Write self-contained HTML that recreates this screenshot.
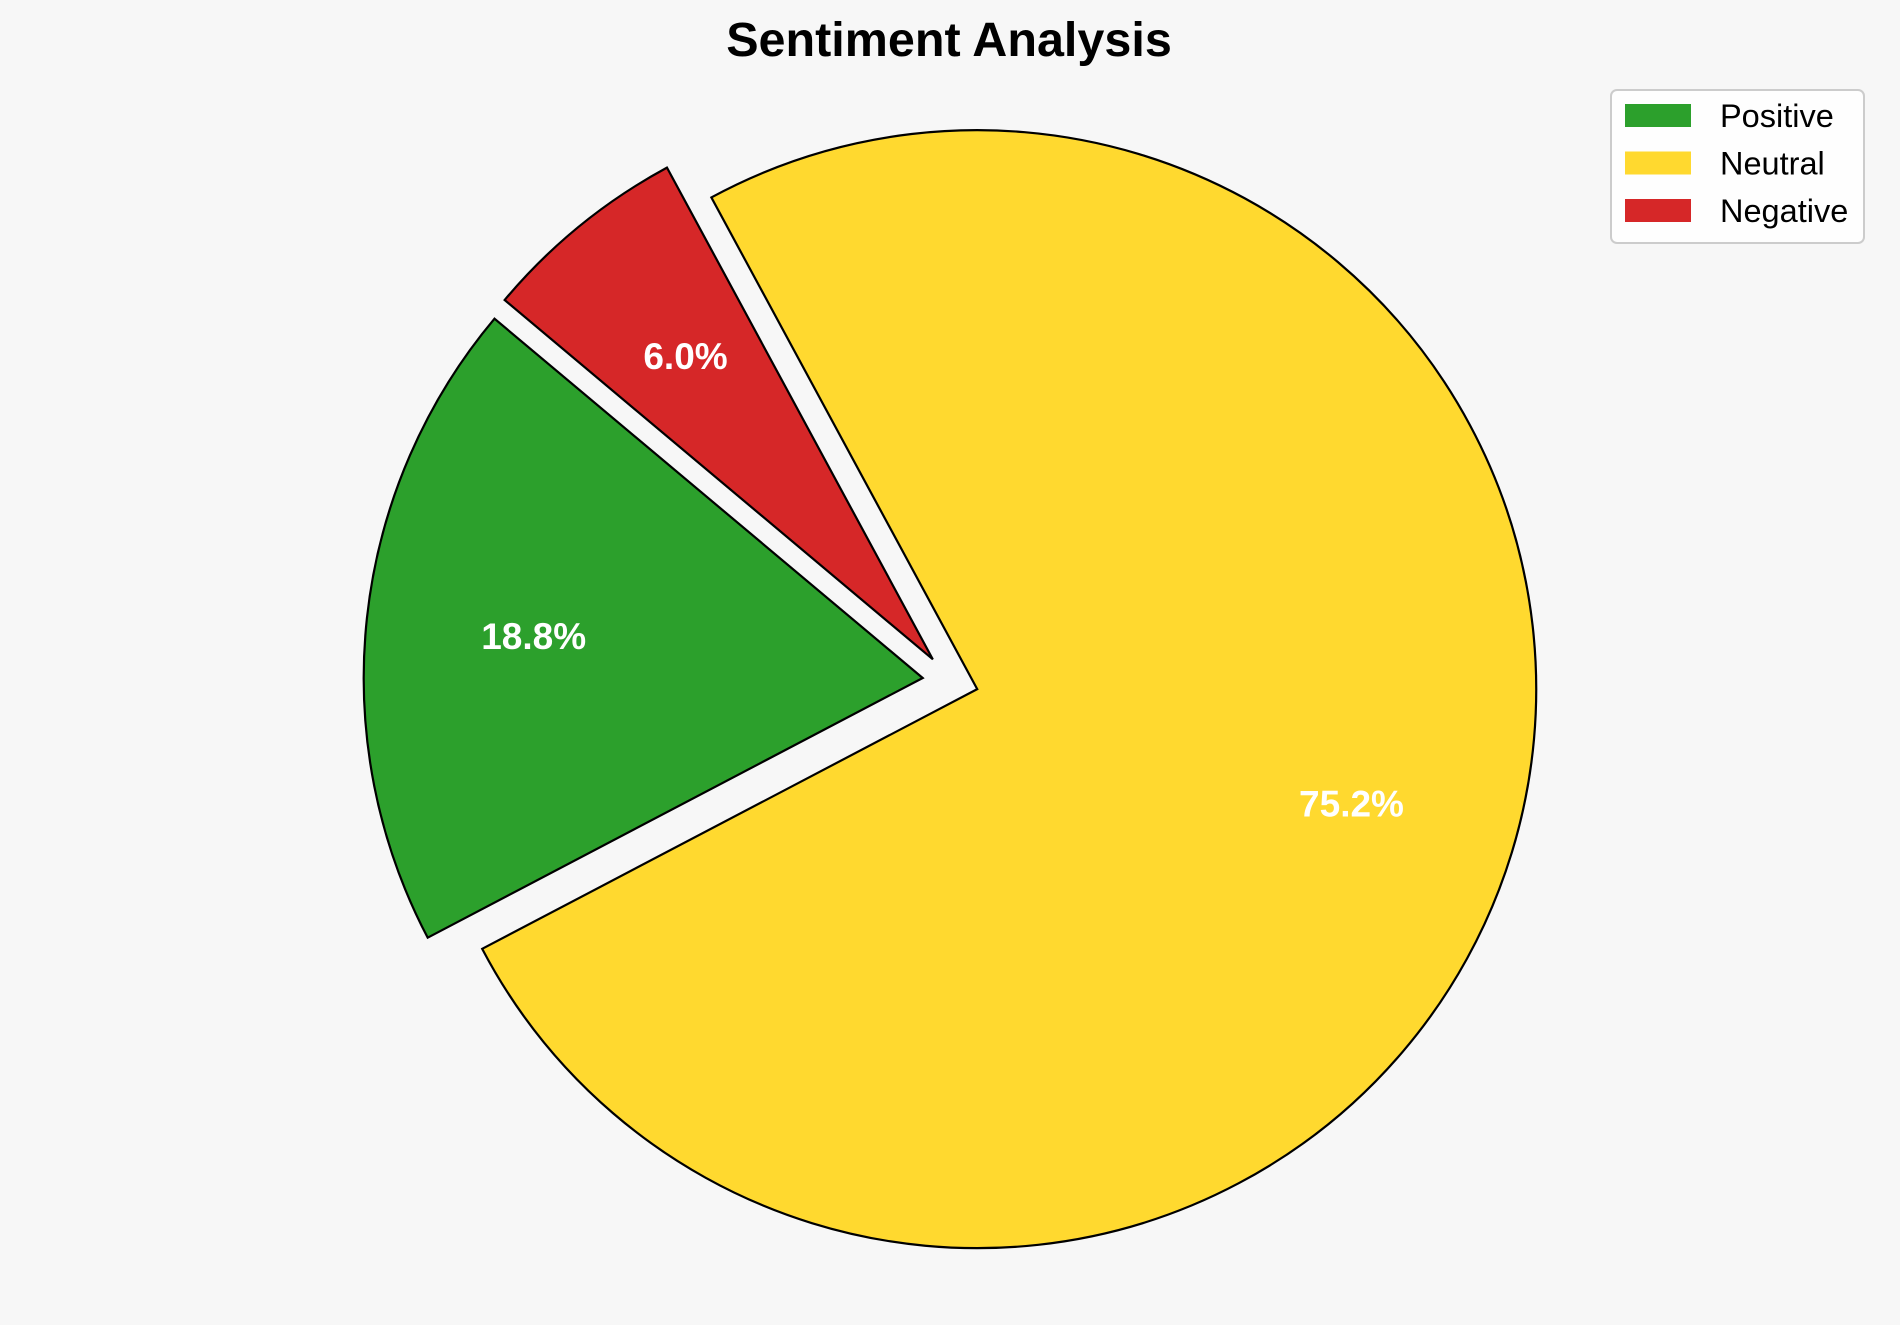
<!DOCTYPE html>
<html><head><meta charset="utf-8"><style>
html,body{margin:0;padding:0;background:#f7f7f7;}
svg{display:block;font-family:"Liberation Sans",Arial,sans-serif;}
</style></head><body>
<svg id="chart" width="1900" height="1325" viewBox="0 0 1900 1325">
<rect x="0" y="0" width="1900" height="1325" fill="#f7f7f7"/>
<text x="949" y="56" text-anchor="middle" font-size="48.5" font-weight="bold" fill="#000">Sentiment Analysis</text>
<g id="slices"></g>
<g id="legend">
<rect x="1611" y="90" width="253" height="153" rx="6" fill="#ffffff" fill-opacity="0.8" stroke="#cccccc" stroke-width="2"/>
</g>
</svg>
<script>
const categories = ["Positive", "Neutral", "Negative"];
const values = [18.8, 75.2, 6.0];
const colors = ["#2ca02c", "#ffd92f", "#d62728"];
const explode = [0.05, 0.05, 0.05];
const pctLabels = ["18.8%", "75.2%", "6.0%"];

const NS = "http://www.w3.org/2000/svg";
const cx = 950.5, cy = 681, R = 559, startAngle = 140, pctDist = 0.7;
const total = values.reduce((a, b) => a + b, 0);
const g = document.getElementById("slices");
const toRad = d => d * Math.PI / 180;
const pt = (x, y, ang, r) => [x + r * Math.cos(toRad(ang)), y - r * Math.sin(toRad(ang))];

let a0 = startAngle;
values.forEach((v, i) => {
  const span = v / total * 360;
  const a1 = a0 + span;
  const mid = (a0 + a1) / 2;
  const [ox, oy] = pt(cx, cy, mid, explode[i] * R);
  const [x0, y0] = pt(ox, oy, a0, R);
  const [x1, y1] = pt(ox, oy, a1, R);
  const large = span > 180 ? 1 : 0;
  const p = document.createElementNS(NS, "path");
  p.setAttribute("d", `M${ox},${oy} L${x0},${y0} A${R},${R} 0 ${large} 0 ${x1},${y1} Z`);
  p.setAttribute("fill", colors[i]);
  p.setAttribute("stroke", "#000");
  p.setAttribute("stroke-width", "2.2");
  p.setAttribute("stroke-linejoin", "miter");
  
  
  g.appendChild(p);
  const [lx, ly] = pt(ox, oy, mid, pctDist * R);
  const t = document.createElementNS(NS, "text");
  t.setAttribute("x", lx);
  t.setAttribute("y", ly + 13);
  t.setAttribute("text-anchor", "middle");
  t.setAttribute("font-size", "37");
  t.setAttribute("font-weight", "bold");
  t.setAttribute("fill", "#ffffff");
  t.textContent = pctLabels[i];
  
  
  g.appendChild(t);
  a0 = a1;
});

const lg = document.getElementById("legend");
categories.forEach((c, i) => {
  const y = 104 + i * 47.5;
  const r = document.createElementNS(NS, "rect");
  r.setAttribute("x", 1625); r.setAttribute("y", y);
  r.setAttribute("width", 66); r.setAttribute("height", 23);
  r.setAttribute("fill", colors[i]);
  
  
  lg.appendChild(r);
  const t = document.createElementNS(NS, "text");
  t.setAttribute("x", 1720); t.setAttribute("y", y + 23);
  t.setAttribute("font-size", "32.5");
  t.setAttribute("fill", "#000");
  t.textContent = c;
  
  
  lg.appendChild(t);
});
</script>
</body></html>
